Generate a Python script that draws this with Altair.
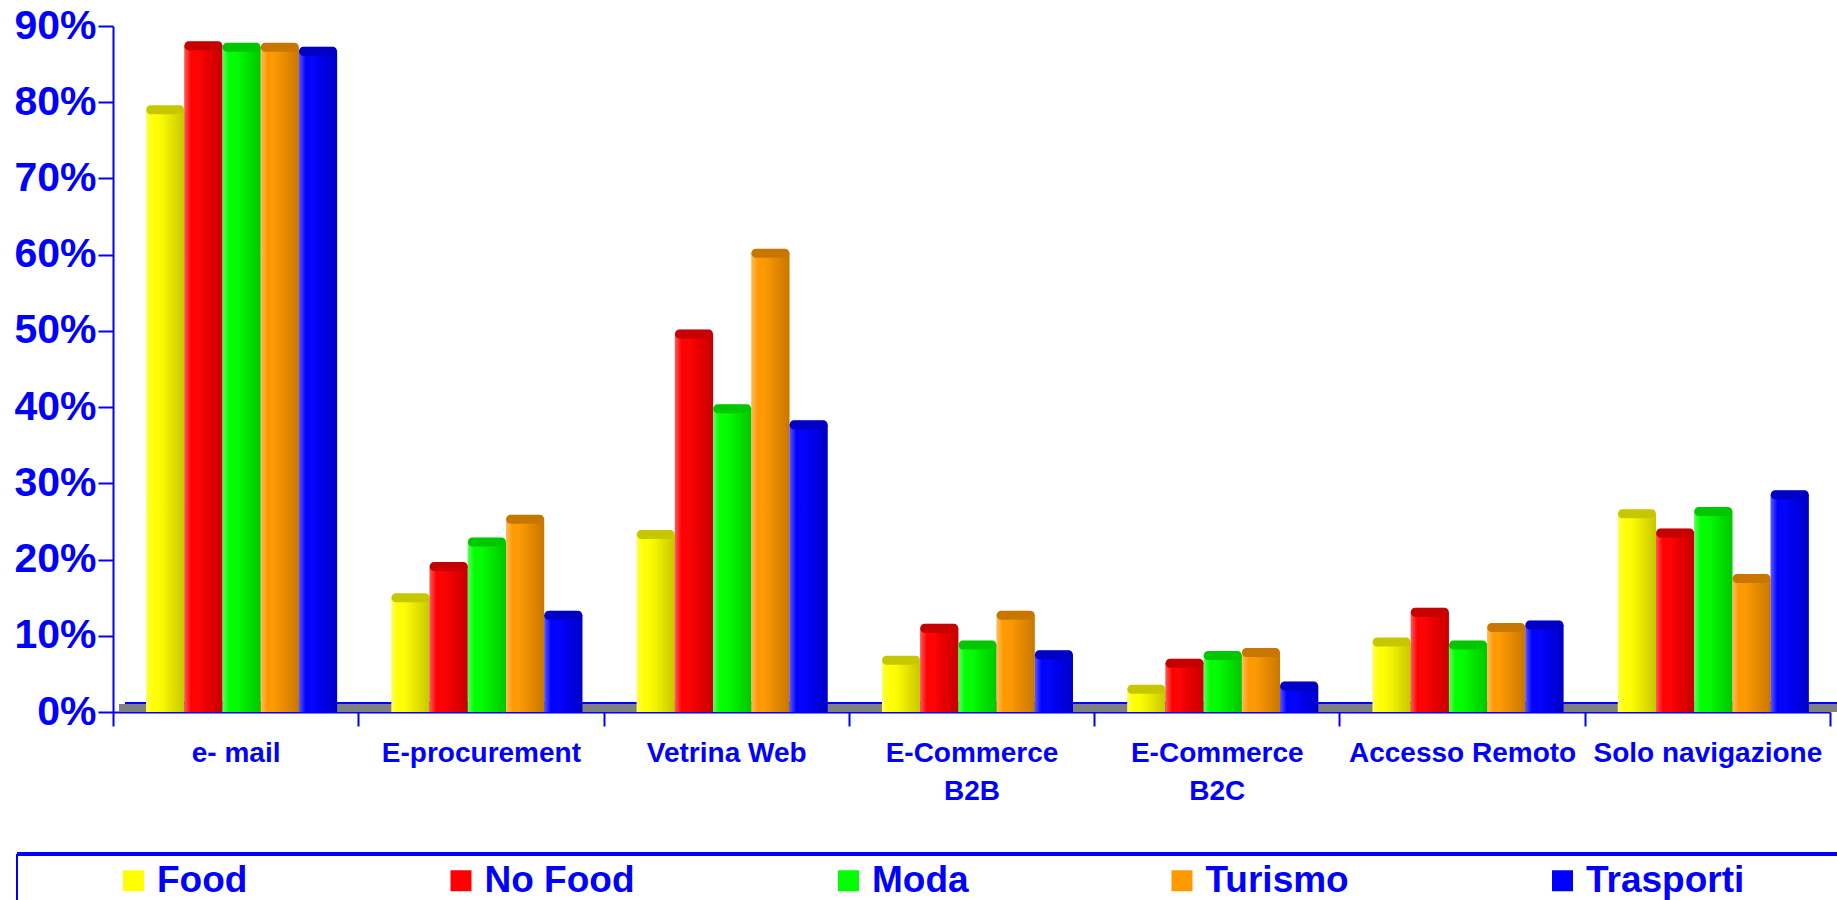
import altair as alt
import pandas as pd

categories = ["e- mail", "E-procurement", "Vetrina Web", "E-Commerce\nB2B",
              "E-Commerce\nB2C", "Accesso Remoto", "Solo navigazione"]
series = ["Food", "No Food", "Moda", "Turismo", "Trasporti"]
colors = ["#FFFF00", "#FF0000", "#00FF00", "#FF9900", "#0000FF"]

food = [79.0, 15.0, 23.3, 6.8, 3.0, 9.2, 26.0]
no_food = [87.4, 19.1, 49.6, 11.0, 6.4, 13.1, 23.5]
moda = [87.2, 22.3, 39.8, 8.8, 7.4, 8.8, 26.3]
turismo = [87.2, 25.3, 60.2, 12.7, 7.8, 11.1, 17.5]
trasporti = [86.7, 12.7, 37.7, 7.5, 3.4, 11.4, 28.5]

values = [food, no_food, moda, turismo, trasporti]
rows = []
for s, vals in zip(series, values):
    for c, v in zip(categories, vals):
        rows.append({"categoria": c, "serie": s, "valore": v})
df = pd.DataFrame(rows)

BLUE = "#0000FF"
FONT = "Liberation Sans"

x_enc = alt.X("categoria:N", sort=categories,
              scale=alt.Scale(paddingInner=0, paddingOuter=0),
              axis=alt.Axis(title=None, labelAngle=0, labelFontSize=28, labelFont=FONT,
                            labelFontWeight="bold", labelColor=BLUE, domainColor=BLUE,
                            domainWidth=2, tickColor=BLUE, tickWidth=2, tickSize=14,
                            tickBand="extent", labelPadding=13, labelLineHeight=38,
                            labelLimit=400,
                            labelExpr="split(datum.label, '\\n')"))
xo_enc = alt.XOffset("serie:N", sort=series,
                     scale=alt.Scale(paddingInner=0, paddingOuter=0.71, align=0.61))
y_enc = alt.Y("valore:Q",
              scale=alt.Scale(domain=[0, 90], nice=False),
              axis=alt.Axis(title=None, values=list(range(0, 91, 10)), grid=False,
                            labelExpr="datum.value + '%'", labelFontSize=41, labelFont=FONT,
                            labelFontWeight="bold", labelColor=BLUE, domainColor=BLUE,
                            domainWidth=2, tickColor=BLUE, tickWidth=2, tickSize=15,
                            labelPadding=2))
color_enc = alt.Color("serie:N", sort=series,
                      scale=alt.Scale(domain=series, range=colors),
                      legend=alt.Legend(title=None, orient="none", legendX=2, legendY=836,
                                        direction="horizontal", symbolType="square",
                                        symbolSize=441, symbolStrokeWidth=0,
                                        labelFontSize=37, labelFont=FONT,
                                        labelFontWeight="bold", labelColor=BLUE,
                                        columnPadding=194.5, labelOffset=5, padding=0))

base = alt.Chart(df)

floor = alt.Chart(df).mark_rule(color="#808080", strokeWidth=8, yOffset=-4).encode(
    y=alt.datum(0), x=alt.value(6), x2=alt.value(1724))
floor_line = alt.Chart(df).mark_rule(color=BLUE, strokeWidth=1.5, yOffset=-9).encode(
    y=alt.datum(0), x=alt.value(12), x2=alt.value(1724))

bars = base.mark_bar().encode(x=x_enc, xOffset=xo_enc, y=y_enc, color=color_enc)

shade = alt.Gradient(
    gradient="linear", x1=0, y1=0, x2=1, y2=0,
    stops=[alt.GradientStop(offset=0, color="rgba(255,255,255,0.35)"),
           alt.GradientStop(offset=0.18, color="rgba(255,255,255,0)"),
           alt.GradientStop(offset=0.55, color="rgba(0,0,0,0.07)"),
           alt.GradientStop(offset=1, color="rgba(0,0,0,0.22)")])
shading = base.mark_bar(fill=shade).encode(x=x_enc, xOffset=xo_enc, y=y_enc)

cap = base.mark_tick(thickness=9, size=38, cornerRadius=4.5, opacity=1).encode(
    x=x_enc, xOffset=xo_enc, y=y_enc, color=color_enc)
cap_dark = base.mark_tick(thickness=9, size=38, cornerRadius=4.5, color="black",
                          opacity=0.22).encode(x=x_enc, xOffset=xo_enc, y=y_enc)

frame_top = alt.Chart(df).mark_rule(color=BLUE, strokeWidth=2.5).encode(
    x=alt.value(-96), x2=alt.value(1730), y=alt.value(828))
frame_left = alt.Chart(df).mark_rule(color=BLUE, strokeWidth=1.5).encode(
    x=alt.value(-96), y=alt.value(828), y2=alt.value(880))

chart = alt.layer(floor, floor_line, bars, shading, cap, cap_dark, frame_top, frame_left).properties(
    width=1717, height=686,
    autosize=alt.AutoSizeParams(type="none"),
    padding={"left": 113, "top": 26, "right": 7, "bottom": 188},
    background="white",
).configure_view(strokeWidth=0)

chart.save("out.html", embed_options={"renderer": "svg", "actions": False})
